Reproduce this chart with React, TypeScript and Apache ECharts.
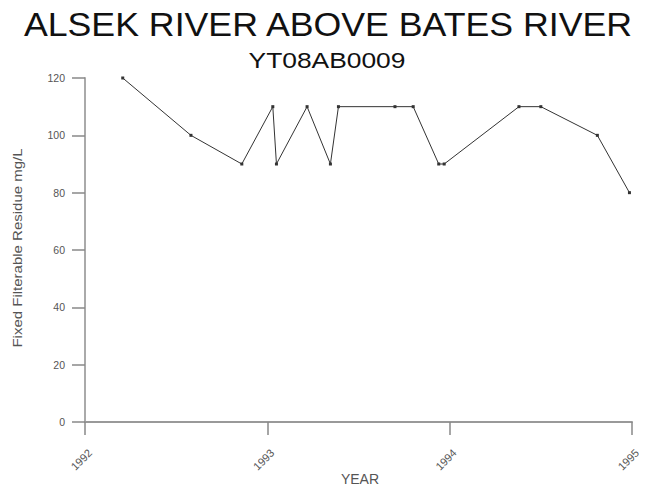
import React, { useEffect, useRef } from "react";
import * as echarts from "echarts";

const TITLE = "ALSEK RIVER ABOVE BATES RIVER";
const SUBTITLE = "YT08AB0009";
const X_NAME = "YEAR";
const Y_NAME = "Fixed Filterable Residue mg/L";

const sampleYears = [
  1992.207, 1992.581, 1992.86, 1993.03, 1993.05, 1993.218, 1993.346, 1993.39,
  1993.7, 1993.8, 1993.94, 1993.97, 1994.38, 1994.5, 1994.81, 1994.986,
];
const residueValues = [120, 100, 90, 110, 90, 110, 90, 110, 110, 110, 90, 90, 110, 110, 100, 80];

const xMin = 1992;
const xMax = 1995;
const yMin = 0;
const yMax = 120;
const yStep = 20;

const FONT = "Liberation Sans, Arial, sans-serif";

export default function App() {
  const ref = useRef<HTMLDivElement>(null);
  useEffect(() => {
    if (!ref.current) return;
    const chart = echarts.init(ref.current, null, { renderer: "svg" });
    const data = sampleYears.map((y, i) => [y, residueValues[i]]);
    chart.setOption({
      animation: false,
      backgroundColor: "#ffffff",
      textStyle: { fontFamily: FONT },
      grid: { left: 85, right: 15, top: 78, bottom: 71, containLabel: false, outerBoundsMode: "none" },
      graphic: [
        {
          type: "text",
          x: 328,
          y: 24,
          scaleX: 1.082,
          style: {
            text: TITLE,
            fontSize: 33,
            fontFamily: FONT,
            fill: "#111",
            align: "center",
            verticalAlign: "middle",
          },
        },
        {
          type: "text",
          x: 327,
          y: 60,
          scaleX: 1.2,
          style: {
            text: SUBTITLE,
            fontSize: 22,
            fontFamily: FONT,
            fill: "#111",
            align: "center",
            verticalAlign: "middle",
          },
        },
        {
          type: "text",
          x: 360,
          y: 479,
          style: {
            text: X_NAME,
            fontSize: 14,
            fontFamily: FONT,
            fill: "#555",
            align: "center",
            verticalAlign: "middle",
          },
        },
        {
          type: "text",
          x: 18,
          y: 248,
          rotation: Math.PI / 2,
          scaleX: 1.2,
          style: {
            text: Y_NAME,
            fontSize: 12.5,
            fontFamily: FONT,
            fill: "#555",
            align: "center",
            verticalAlign: "middle",
          },
        },
      ],
      xAxis: {
        type: "value",
        min: xMin,
        max: xMax,
        interval: 1,
        splitLine: { show: false },
        axisLine: { show: true, onZero: false, lineStyle: { color: "#999", width: 2 } },
        axisTick: { show: true, length: 13, lineStyle: { color: "#888", width: 1.5 } },
        axisLabel: {
          rotate: 45,
          margin: 24,
          fontSize: 11,
          color: "#555",
          verticalAlign: "top",
          lineHeight: 14,
          formatter: (v: number) => String(v),
        },
      },
      yAxis: {
        type: "value",
        min: yMin,
        max: yMax,
        interval: yStep,
        splitLine: { show: false },
        axisLine: { show: true, onZero: false, lineStyle: { color: "#aaa", width: 2 } },
        axisTick: { show: true, length: 13, lineStyle: { color: "#888", width: 1.5 } },
        axisLabel: { margin: 20, fontSize: 10.5, color: "#555" },
      },
      series: [
        {
          type: "line",
          data,
          symbol: "rect",
          symbolSize: 3,
          itemStyle: { color: "#333" },
          lineStyle: { color: "#333", width: 1 },
        },
      ],
    });
    return () => chart.dispose();
  }, []);
  return <div ref={ref} style={{ width: 647, height: 493, margin: -8 }} />;
}
